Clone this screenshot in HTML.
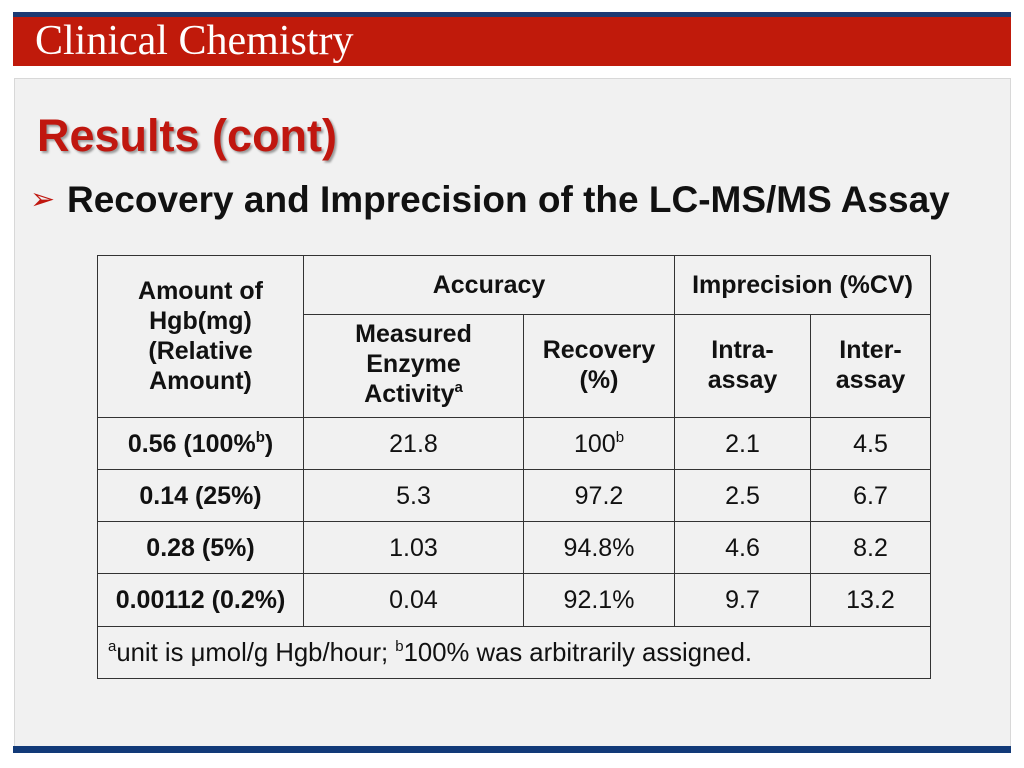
<!DOCTYPE html>
<html><head><meta charset="utf-8"><style>
body{margin:0;width:1024px;height:768px;background:#fff;position:relative;overflow:hidden;font-family:"Liberation Sans",sans-serif}
.abs{position:absolute}
table{position:absolute;left:97px;top:255px;border-collapse:collapse;color:#111;table-layout:fixed}
td{border:1.5px solid #333;text-align:center;font-size:25px;padding:0;line-height:30px}
th{border:1.5px solid #333;font-size:25px;line-height:30px;padding:0;vertical-align:top;font-weight:bold}
sup{font-size:15px;vertical-align:top;line-height:18px}
.b{font-weight:bold}
</style></head><body>
<div class="abs" style="left:13px;top:12px;width:998px;height:5px;background:#1d3a73"></div>
<div class="abs" style="left:13px;top:17px;width:998px;height:49px;background:#c01a0b"></div>
<div class="abs" style="left:35px;top:18px;font-family:'Liberation Serif',serif;font-size:42px;color:#fff;line-height:46px">Clinical Chemistry</div>
<div class="abs" style="left:14px;top:78px;width:995px;height:668px;background:#f1f1f1;border:1px solid #d8d8d8"></div>
<div class="abs" style="left:13px;top:746px;width:998px;height:7px;background:#123a78"></div>
<div class="abs" style="left:37px;top:111px;font-size:45px;font-weight:bold;color:#c0170f;text-shadow:2px 2px 2px #999;line-height:50px">Results (cont)</div>
<div class="abs" style="left:30px;top:182px;font-size:30px;color:#c0170f;line-height:36px">➢</div>
<div class="abs" style="left:67px;top:179px;font-size:37px;font-weight:bold;color:#111;line-height:42px">Recovery and Imprecision of the LC-MS/MS Assay</div>
<table>
<colgroup><col style="width:206px"><col style="width:220px"><col style="width:151px"><col style="width:136px"><col style="width:120px"></colgroup>
<tr style="height:59px"><th rowspan="2" style="padding-top:20px">Amount of<br>Hgb(mg)<br>(Relative<br>Amount)</th><th colspan="2" style="padding-top:14px">Accuracy</th><th colspan="2" style="padding-top:14px">Imprecision (%CV)</th></tr>
<tr style="height:103px"><th style="padding-top:4px">Measured<br>Enzyme<br>Activity<sup>a</sup></th><th style="padding-top:20px">Recovery<br>(%)</th><th style="padding-top:20px">Intra-<br>assay</th><th style="padding-top:20px">Inter-<br>assay</th></tr>
<tr style="height:52px"><td class="b">0.56 (100%<sup>b</sup>)</td><td>21.8</td><td>100<sup>b</sup></td><td>2.1</td><td>4.5</td></tr>
<tr style="height:52px"><td class="b">0.14 (25%)</td><td>5.3</td><td>97.2</td><td>2.5</td><td>6.7</td></tr>
<tr style="height:52px"><td class="b">0.28 (5%)</td><td>1.03</td><td>94.8%</td><td>4.6</td><td>8.2</td></tr>
<tr style="height:53px"><td class="b">0.00112 (0.2%)</td><td>0.04</td><td>92.1%</td><td>9.7</td><td>13.2</td></tr>
<tr style="height:52px"><td colspan="5" style="text-align:left;padding-left:10px;font-size:25.7px"><sup>a</sup>unit is μmol/g Hgb/hour; <sup>b</sup>100% was arbitrarily assigned.</td></tr>
</table>
</body></html>
